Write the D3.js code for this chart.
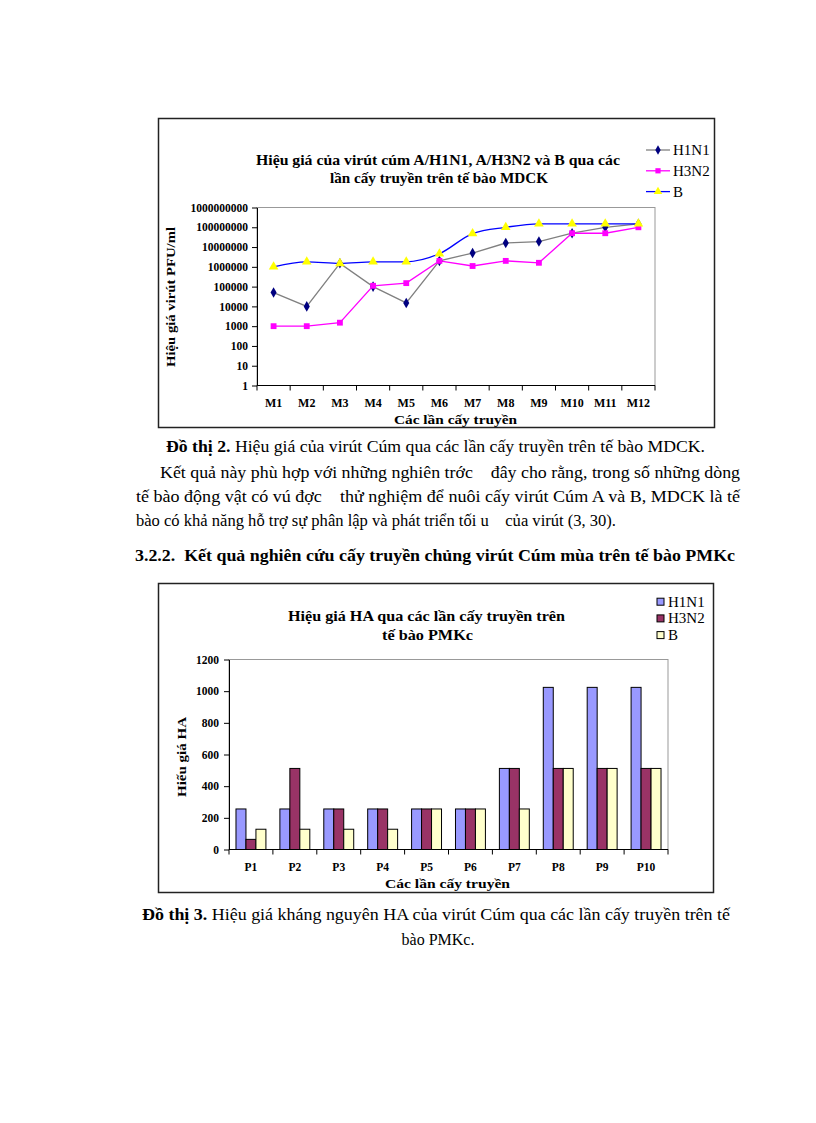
<!DOCTYPE html>
<html>
<head>
<meta charset="utf-8">
<script src="https://cdn.jsdelivr.net/npm/d3@7"></script>
<style>
  body { margin: 0; background: #fff; }
  svg, svg text { font-family: "Liberation Serif", "Times New Roman", serif; }
</style>
</head>
<body>
<svg id="page" width="816" height="1123"></svg>
<script>
// chart 1: virus titer (PFU/ml) over MDCK passages
const passagesM = ['M1', 'M2', 'M3', 'M4', 'M5', 'M6', 'M7', 'M8', 'M9', 'M10', 'M11', 'M12'];
const h1n1Pfu = [5e4, 1e4, 1.5e6, 1e5, 1.5e4, 2e6, 5e6, 1.6e7, 1.9e7, 5e7, 1e8, 1.5e8];
const h3n2Pfu = [1000, 1000, 1500, 1.1e5, 1.5e5, 2e6, 1.1e6, 2e6, 1.6e6, 5e7, 5e7, 1e8];
const bPfu = [1e6, 1.8e6, 1.5e6, 1.8e6, 1.8e6, 4.6e6, 4.8e7, 1e8, 1.5e8, 1.5e8, 1.5e8, 1.5e8];
const pfuTicks = [1, 10, 100, 1000, 10000, 100000, 1000000, 10000000, 100000000, 1000000000];

// chart 2: HA titer over PMKc passages
const passagesP = ['P1', 'P2', 'P3', 'P4', 'P5', 'P6', 'P7', 'P8', 'P9', 'P10'];
const h1n1HA = [256, 256, 256, 256, 256, 256, 512, 1024, 1024, 1024];
const h3n2HA = [64, 512, 256, 256, 256, 256, 512, 512, 512, 512];
const bHA = [128, 128, 128, 128, 256, 256, 256, 512, 512, 512];
const haTicks = [0, 200, 400, 600, 800, 1000, 1200];

const seriesNames = ['H1N1', 'H3N2', 'B'];

const svg = d3.select('#page');

// helper for text squeezed/stretched to the width seen in the scan
function fitText(sel, x, y, len, size, bold, str, anchor) {
  return sel.append('text').attr('x', x).attr('y', y)
    .attr('text-anchor', anchor || 'start')
    .attr('font-size', size).attr('font-weight', bold ? 'bold' : 'normal')
    .attr('textLength', len).attr('lengthAdjust', 'spacingAndGlyphs')
    .attr('xml:space', 'preserve').text(str);
}

// ---------- chart 1 ----------
svg.append('rect').attr('x', 158.5).attr('y', 118.5).attr('width', 556).attr('height', 309)
  .attr('fill', '#fff').attr('stroke', '#222').attr('stroke-width', 1.5);

const x1 = d3.scaleBand().domain(passagesM).range([257, 655]);
const y1 = d3.scaleLog().domain([1, 1e9]).range([385.5, 207.5]);

const g1 = svg.append('g');
g1.append('rect').attr('x', 257).attr('y', 207.5).attr('width', 398).attr('height', 178)
  .attr('fill', 'none').attr('stroke', '#999');

g1.append('g').attr('transform', 'translate(257,0)')
  .call(d3.axisLeft(y1).tickValues(pfuTicks).tickFormat(d3.format('d')).tickSize(5).tickSizeOuter(0))
  .call(a => a.attr('font-family', null).attr('font-size', null))
  .call(a => a.selectAll('text').attr('font-size', 11.5).attr('font-weight', 'bold').attr('x', -9));

const xa1 = g1.append('g').attr('transform', 'translate(0,385.5)');
xa1.append('line').attr('x1', 257).attr('x2', 655).attr('stroke', '#000');
xa1.selectAll('line.tk').data(passagesM.concat(['end'])).join('line').attr('class', 'tk')
  .attr('x1', (d, i) => i < passagesM.length ? x1(d) : x1.range()[1])
  .attr('x2', (d, i) => i < passagesM.length ? x1(d) : x1.range()[1])
  .attr('y2', 5).attr('stroke', '#000');
xa1.selectAll('text').data(passagesM).join('text')
  .attr('x', d => x1(d) + x1.bandwidth() / 2).attr('y', 21)
  .attr('text-anchor', 'middle').attr('font-size', 12).attr('font-weight', 'bold').text(d => d);

const cx1 = (d, i) => x1(passagesM[i]) + x1.bandwidth() / 2;
const lineSeries = [
  { name: 'H1N1', values: h1n1Pfu, stroke: '#808080', fill: '#000080', symbol: d3.symbolDiamond, size: 32, curve: d3.curveLinear },
  { name: 'H3N2', values: h3n2Pfu, stroke: '#FF00FF', fill: '#FF00FF', symbol: d3.symbolSquare, size: 34, curve: d3.curveLinear },
  { name: 'B', values: bPfu, stroke: '#0000FF', fill: '#FFFF00', symbol: d3.symbolTriangle, size: 40, curve: d3.curveMonotoneX }
];
lineSeries.forEach(s => {
  const line = d3.line().x(cx1).y(d => y1(d)).curve(s.curve);
  g1.append('path').datum(s.values).attr('d', line)
    .attr('fill', 'none').attr('stroke', s.stroke).attr('stroke-width', 1.3);
});
lineSeries.forEach(s => {
  g1.append('g').selectAll('path').data(s.values).join('path')
    .attr('transform', (d, i) => `translate(${cx1(d, i)},${y1(d)})`)
    .attr('d', d3.symbol(s.symbol, s.size)).attr('fill', s.fill);
});

fitText(g1, 256, 164.5, 364, 14.5, true, 'Hiệu giá của virút cúm A/H1N1, A/H3N2 và B qua các');
fitText(g1, 330, 182.5, 218, 14.5, true, 'lần cấy truyền trên tế bào MDCK');

const leg1 = g1.append('g').selectAll('g').data(lineSeries).join('g')
  .attr('transform', (d, i) => `translate(646,${150 + i * 20.8})`);
leg1.append('line').attr('x2', 24).attr('stroke', d => d.stroke).attr('stroke-width', 1.3);
leg1.append('path').attr('transform', 'translate(12,0)')
  .attr('d', d => d3.symbol(d.symbol, d.size * 0.8)()).attr('fill', d => d.fill);
leg1.append('text').attr('x', 27).attr('y', 5).attr('font-size', 15)
  .text(d => d.name);

fitText(g1.append('g').attr('transform', 'translate(175,367) rotate(-90)'), 0, 0, 140, 13, true,
  'Hiệu giá virút PFU/ml');
fitText(g1, 394, 424, 123, 13.5, true, 'Các lần cấy truyền');

// ---------- text between charts ----------
const txt = svg.append('g').attr('font-size', 16);
const cap1 = txt.append('text').attr('x', 166).attr('y', 452).attr('textLength', 539).attr('lengthAdjust', 'spacingAndGlyphs');
cap1.append('tspan').attr('font-weight', 'bold').text('Đồ thị 2.');
cap1.append('tspan').text(' Hiệu giá của virút Cúm qua các lần cấy truyền trên tế bào MDCK.');
fitText(txt, 160, 478, 580, 16, false, 'Kết quả này phù hợp với những nghiên trớc    đây cho rằng, trong số những dòng');
fitText(txt, 136, 502, 604, 16, false, 'tế bào động vật có vú đợc    thử nghiệm để nuôi cấy virút Cúm A và B, MDCK là tế');
fitText(txt, 136, 526, 480, 16, false, 'bào có khả năng hỗ trợ sự phân lập và phát triển tối u    của virút (3, 30).');
fitText(txt, 135, 561, 600, 16, true, '3.2.2.  Kết quả nghiên cứu cấy truyền chủng virút Cúm mùa trên tế bào PMKc');

// ---------- chart 2 ----------
svg.append('rect').attr('x', 158.5).attr('y', 583.5).attr('width', 555).attr('height', 309)
  .attr('fill', '#fff').attr('stroke', '#222').attr('stroke-width', 1.5);

const x2 = d3.scaleBand().domain(passagesP).range([229, 668]);
const xs2 = d3.scaleBand().domain(seriesNames)
  .range([0, x2.bandwidth()]).paddingInner(0).paddingOuter(0.7);
const y2 = d3.scaleLinear().domain([0, 1200]).range([849.5, 659.5]);
const barColors = ['#9999FF', '#993366', '#FFFFCC'];
const barData = [h1n1HA, h3n2HA, bHA];

const g2 = svg.append('g');
g2.append('rect').attr('x', 229).attr('y', 659.5).attr('width', 439).attr('height', 190)
  .attr('fill', 'none').attr('stroke', '#999');

g2.append('g').attr('transform', 'translate(229,0)')
  .call(d3.axisLeft(y2).tickValues(haTicks).tickFormat(d3.format('d')).tickSize(5).tickSizeOuter(0))
  .call(a => a.attr('font-family', null).attr('font-size', null))
  .call(a => a.selectAll('text').attr('font-size', 11.5).attr('font-weight', 'bold').attr('x', -10));

const groups = g2.append('g').selectAll('g').data(passagesP).join('g')
  .attr('transform', d => `translate(${x2(d)},0)`);
groups.selectAll('rect').data((d, i) => seriesNames.map((s, k) => ({ s, k, v: barData[k][i] }))).join('rect')
  .attr('x', d => xs2(d.s)).attr('width', xs2.bandwidth())
  .attr('y', d => y2(d.v)).attr('height', d => y2(0) - y2(d.v))
  .attr('fill', d => barColors[d.k]).attr('stroke', '#000').attr('stroke-width', 1);

const xa2 = g2.append('g').attr('transform', 'translate(0,849.5)');
xa2.append('line').attr('x1', 229).attr('x2', 668).attr('stroke', '#000');
xa2.selectAll('line.tk').data(passagesP.concat(['end'])).join('line').attr('class', 'tk')
  .attr('x1', (d, i) => i < passagesP.length ? x2(d) : x2.range()[1])
  .attr('x2', (d, i) => i < passagesP.length ? x2(d) : x2.range()[1])
  .attr('y2', 5).attr('stroke', '#000');
xa2.selectAll('text').data(passagesP).join('text')
  .attr('x', d => x2(d) + x2.bandwidth() / 2).attr('y', 21)
  .attr('text-anchor', 'middle').attr('font-size', 11.5).attr('font-weight', 'bold').text(d => d);

fitText(g2, 288, 621, 277, 14.5, true, 'Hiệu giá HA qua các lần cấy truyền trên');
fitText(g2, 382, 640, 91, 14.5, true, 'tế bào PMKc');

const leg2 = g2.append('g').selectAll('g').data(seriesNames).join('g')
  .attr('transform', (d, i) => `translate(657,${601.7 + i * 16.7})`);
leg2.append('rect').attr('width', 7).attr('height', 7).attr('y', -3.5)
  .attr('fill', (d, i) => barColors[i]).attr('stroke', '#000');
leg2.append('text').attr('x', 11).attr('y', 5).attr('font-size', 15).text(d => d);

fitText(g2.append('g').attr('transform', 'translate(186,797) rotate(-90)'), 0, 0, 80, 13, true, 'Hiếu giá HA');
fitText(g2, 385, 888, 125, 13.5, true, 'Các lần cấy truyền');

// ---------- caption 2 ----------
const cap2 = txt.append('text').attr('x', 142).attr('y', 920).attr('textLength', 588).attr('lengthAdjust', 'spacingAndGlyphs');
cap2.append('tspan').attr('font-weight', 'bold').text('Đồ thị 3.');
cap2.append('tspan').text(' Hiệu giá kháng nguyên HA  của virút Cúm qua các lần cấy truyền trên tế');
txt.append('text').attr('x', 438).attr('y', 945).attr('text-anchor', 'middle').text('bào PMKc.');
</script>
</body>
</html>
